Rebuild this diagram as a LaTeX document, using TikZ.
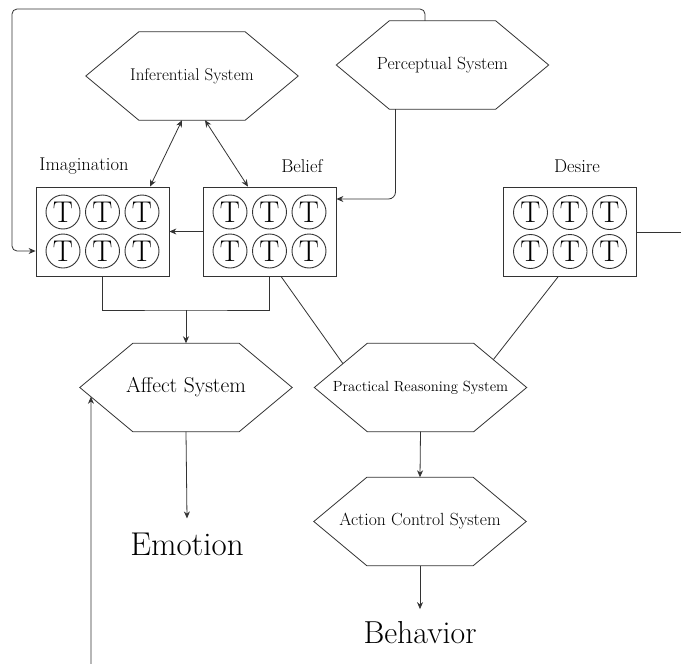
\documentclass[tikz,border=0pt]{standalone}
\usepackage{fontspec}
\usetikzlibrary{arrows.meta,calc}
\newcommand\fs[1]{\fontsize{#1}{#1}\selectfont}
\newcommand\hexa[4]{%
  \node[hexbox,font=\fs{#4}] (#1) at (#2) {#3};
  \draw[ln] (#1.west) -- ([xshift=53pt]#1.north west) -- ([xshift=-53pt]#1.north east)
    -- (#1.east) -- ([xshift=-53pt]#1.south east) -- ([xshift=53pt]#1.south west) -- cycle;}
\newcommand\tgrid[1]{%
  \foreach \cx/\cc in {-39.5/a,0/b,39.5/c}{
    \node[tcirc] (#1-\cc1) at ([xshift=\cx pt,yshift=19.5pt]#1.center) {T};
    \node[tcirc] (#1-\cc2) at ([xshift=\cx pt,yshift=-19.5pt]#1.center) {T};
  }}
\tikzset{
  ln/.style={draw=black!80,line width=0.8pt},
  arr/.style={ln,-{Stealth[length=7pt,width=6pt]}},
  darr/.style={ln,{Stealth[length=7pt,width=6pt]}-{Stealth[length=7pt,width=6pt]}},
  hexbox/.style={rectangle,minimum width=212pt,minimum height=88pt,inner sep=0pt},
  tbox/.style={rectangle,draw=black!80,line width=0.8pt,minimum width=133pt,minimum height=89pt,inner sep=0pt},
  tcirc/.style={circle,draw=black!80,line width=0.9pt,minimum size=34pt,inner sep=0pt,font=\fs{30}},
  lab/.style={font=\fs{18.5},inner sep=0pt},
  big/.style={font=\fs{33},inner xsep=0pt,inner ysep=14pt}
}
\begin{document}
\begin{tikzpicture}[x=1pt,y=-1pt]
\useasboundingbox[fill=white] (0,0) rectangle (681,664);
% hexagons
\hexa{inf}{192,76}{Inferential System}{17}
\hexa{perc}{442.5,65}{Perceptual System}{17.6}
\hexa{aff}{186,387.5}{Affect System}{21.5}
\hexa{prac}{420.5,387.5}{Practical Reasoning System}{14.7}
\hexa{act}{420,521.5}{Action Control System}{17.6}
% boxes
\node[tbox] (imag) at (102.5,231.5) {};
\node[tbox] (bel) at (269.5,231.5) {};
\node[tbox] (des) at (570,232) {};
\tgrid{imag}\tgrid{bel}\tgrid{des}
% labels
\node[lab] (limag) at (84,166) {Imagination};
\node[lab] (lbel) at (302,166) {Belief};
\node[lab] (ldes) at (577,166) {Desire};
\node[big] (emo) at (187,544) {Emotion};
\node[big,font=\fs{31.8},inner ysep=12pt] (beh) at (420,632.5) {Behavior};
% connectors
\draw[darr] ([xshift=-10pt]inf.south) -- ([xshift=47.5pt]imag.north);
\draw[darr] ([xshift=13pt]inf.south) -- ([xshift=-21.5pt]bel.north);
\draw[arr,rounded corners=7pt] ([xshift=-47pt]perc.south) |- ([yshift=32.5pt]bel.east);
\coordinate (tl) at (12,9);
\draw[arr,rounded corners=5pt] ([xshift=-17.5pt]perc.north) |- (tl) |- ([yshift=-19.5pt]imag.west);
\draw[arr] (bel.west) -- (imag.east);
\coordinate (jn) at (186,310);
\draw[ln] (imag.south) |- (jn) -| (bel.south);
\draw[arr] (jn) -- (aff.north);
\draw[ln] ([xshift=11.5pt]bel.south) -- ($(prac.west)!0.54!([xshift=53pt]prac.north west)$);
\draw[ln] ([xshift=-12pt]des.south) -- ($(prac.east)!0.63!([xshift=-53pt]prac.north east)$);
\coordinate (offr) at (681,232);
\draw[ln] (des.east) -- (offr);
\draw[arr] (aff.south) -- (emo.north);
\draw[arr] (prac.south) -- (act.north);
\draw[arr] (act.south) -- (beh.north);
\coordinate (offb) at (91,664);
\draw[arr] (offb) -- ($(aff.west)!0.21!([xshift=53pt]aff.south west)$);
\end{tikzpicture}
\end{document}
